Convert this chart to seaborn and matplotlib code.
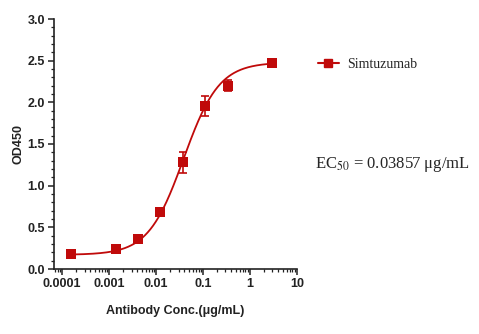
import numpy as np
import pandas as pd
import matplotlib
matplotlib.use("Agg")
import matplotlib.pyplot as plt
import seaborn as sns
from matplotlib.lines import Line2D
from matplotlib.ticker import LogLocator, MultipleLocator, FixedLocator, FixedFormatter

# Data
conc = [0.0001524, 0.001372, 0.004115, 0.01235, 0.03704, 0.1111, 0.3333, 3.0]
od450 = [0.18, 0.24, 0.36, 0.68, 1.28, 1.96, 2.20, 2.47]
od_err = [0.02, 0.02, 0.02, 0.03, 0.13, 0.12, 0.07, 0.02]
series_name = "Simtuzumab"

fit_bottom = 0.17
fit_top = 2.48
fit_ec50 = 0.03857
fit_hill = 1.15

xtick_vals = [0.0001, 0.001, 0.01, 0.1, 1, 10]
xtick_labels = ["0.0001", "0.001", "0.01", "0.1", "1", "10"]
ytick_vals = [0.0, 0.5, 1.0, 1.5, 2.0, 2.5, 3.0]

red = "#C00A0A"

sns.set_theme(style="ticks")
plt.rcParams["font.family"] = ["Liberation Sans", "DejaVu Sans"]

fig = plt.figure(figsize=(4.79, 3.34), dpi=100)
ax = fig.add_axes([54/479, 1-269/334, (297-54)/479, (269-19)/334])

xs = np.logspace(np.log10(conc[0]), np.log10(conc[-1]), 300)
ys = fit_bottom + (fit_top - fit_bottom) / (1 + (fit_ec50 / xs) ** fit_hill)
curve = pd.DataFrame({"x": xs, "y": ys})
pts = pd.DataFrame({"x": conc, "y": od450, "e": od_err})

sns.lineplot(data=curve, x="x", y="y", ax=ax, color=red, lw=1.3, zorder=2)
ax.errorbar(pts["x"], pts["y"], yerr=pts["e"], fmt="none", ecolor=red,
            elinewidth=1.2, capsize=3, capthick=1.2, zorder=3)
sns.scatterplot(data=pts, x="x", y="y", ax=ax, marker="s", s=60, color=red,
                edgecolor=red, linewidth=0, zorder=4)

ax.set_xscale("log")
ax.set_xlim(6.7e-5, 10)
ax.set_ylim(0, 3.0)
ax.xaxis.set_major_locator(FixedLocator(xtick_vals))
ax.xaxis.set_major_formatter(FixedFormatter(xtick_labels))
ax.xaxis.set_minor_locator(LogLocator(base=10, subs=np.arange(2, 10), numticks=20))
ax.set_yticks(ytick_vals)
ax.set_yticklabels([f"{v:.1f}" for v in ytick_vals])
ax.yaxis.set_minor_locator(MultipleLocator(0.1))

for s in ["top", "right"]:
    ax.spines[s].set_visible(False)
for s in ["left", "bottom"]:
    ax.spines[s].set_linewidth(1.2)
    ax.spines[s].set_color("#222222")

ax.tick_params(axis="both", which="major", direction="out", length=4, width=1.1,
               labelsize=9, colors="#222222", pad=2.5)
ax.tick_params(axis="both", which="minor", direction="out", length=2, width=0.9,
               colors="#222222")
for lab in ax.get_xticklabels() + ax.get_yticklabels():
    lab.set_fontweight("bold")

ax.set_xlabel("Antibody Conc.(μg/mL)", fontsize=9, fontweight="bold", labelpad=11, color="#222222")
ax.set_ylabel("OD450", fontsize=9, fontweight="bold", labelpad=2, color="#222222")

handle = Line2D([0], [0], color=red, lw=1.5, marker="s", markersize=6)
leg = ax.legend([handle], [series_name], loc="center left",
                bbox_to_anchor=(318/479, 1-64/334), bbox_transform=fig.transFigure,
                frameon=False, handlelength=1.5, handletextpad=0.6, borderaxespad=0, borderpad=0,
                prop={"family": "Liberation Serif", "size": 10})

fig.text(315/479, 1-164/334, "EC$_{50}$ = 0.03857 μg/mL", fontsize=12,
         family="Liberation Serif", va="center", ha="left", math_fontfamily="stix")

fig.savefig("out.png", dpi=100)
